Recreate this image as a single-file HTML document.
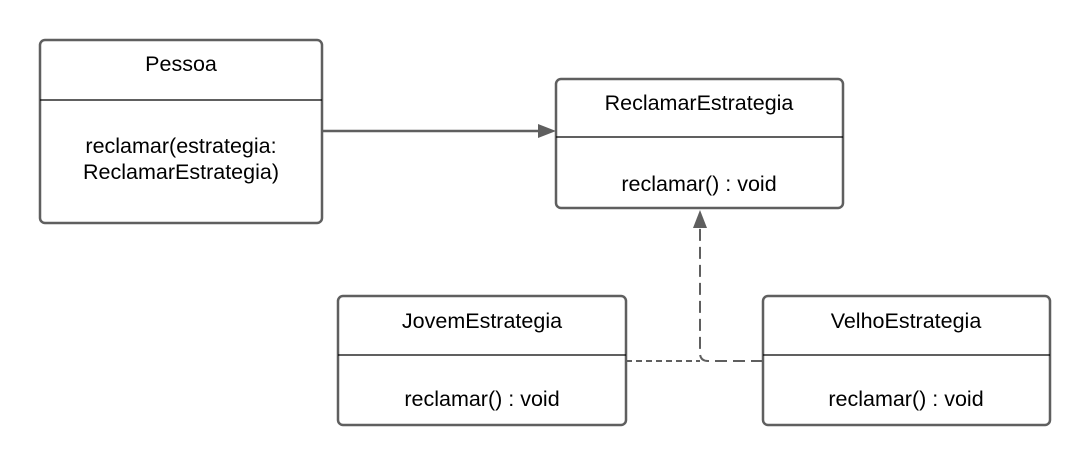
<!DOCTYPE html>
<html><head><style>body{margin:0;background:#fff}</style></head><body>
<svg width="1091" height="466" xmlns="http://www.w3.org/2000/svg" font-family="Liberation Sans, sans-serif" font-size="21.5" fill="#000">
<rect width="1091" height="466" fill="#fff"/>
<g fill="none" stroke="#5f5f5f" stroke-width="2.5">
<rect x="40" y="40" width="282" height="183" rx="5"/>
<rect x="556" y="79" width="287" height="129" rx="5"/>
<rect x="338" y="296" width="288" height="129" rx="5"/>
<rect x="763" y="296" width="287" height="129" rx="5"/>
<path d="M322 131 H540"/>
<path d="M626 361 H700" stroke-dasharray="6 4" stroke-width="2"/>
<path d="M763 361 H708 Q700 361 700 353 V226" stroke-dasharray="12 6" stroke-width="2"/>
</g>
<g fill="#5f5f5f"><path d="M556 131 L538 124 L538 138Z"/><path d="M700 210 L693 228 L707 228Z"/></g>
<g stroke="#000" stroke-width="1.2">
<path d="M40 100 H322"/><path d="M556 137 H843"/><path d="M338 355 H626"/><path d="M763 355 H1050"/>
</g>
<g text-anchor="middle">
<text x="181" y="71">Pessoa</text>
<text x="181" y="153">reclamar(estrategia:</text>
<text x="181" y="179">ReclamarEstrategia)</text>
<text x="699" y="110">ReclamarEstrategia</text>
<text x="699" y="191">reclamar() : void</text>
<text x="482" y="328">JovemEstrategia</text>
<text x="482" y="406">reclamar() : void</text>
<text x="906" y="328">VelhoEstrategia</text>
<text x="906" y="406">reclamar() : void</text>
</g>
</svg>
</body></html>
